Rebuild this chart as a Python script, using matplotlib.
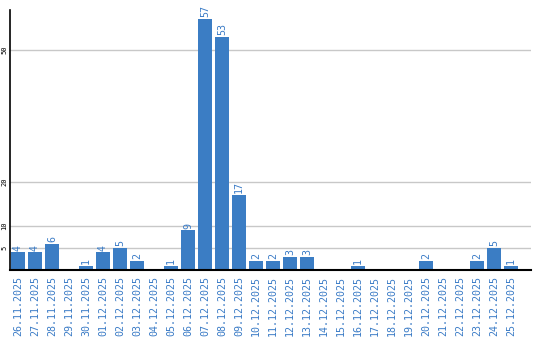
import matplotlib
matplotlib.use("Agg")
import matplotlib.pyplot as plt

dates = ["26.11.2025", "27.11.2025", "28.11.2025", "29.11.2025", "30.11.2025",
         "01.12.2025", "02.12.2025", "03.12.2025", "04.12.2025", "05.12.2025",
         "06.12.2025", "07.12.2025", "08.12.2025", "09.12.2025", "10.12.2025",
         "11.12.2025", "12.12.2025", "13.12.2025", "14.12.2025", "15.12.2025",
         "16.12.2025", "17.12.2025", "18.12.2025", "19.12.2025", "20.12.2025",
         "21.12.2025", "22.12.2025", "23.12.2025", "24.12.2025", "25.12.2025"]
counts = [4, 4, 6, 0, 1, 4, 5, 2, 0, 1, 9, 57, 53, 17, 2, 2, 3, 3, 0, 0,
          1, 0, 0, 0, 2, 0, 0, 2, 5, 1]
y_ticks = [5, 10, 20, 50]

BLUE = "#3b7dc4"
TXT = "#3a7bc6"

fig = plt.figure(figsize=(5.4, 3.4), dpi=100)
ax = fig.add_axes([10 / 540, 1 - 270 / 340, 521 / 540, 260 / 340])

x = list(range(len(dates)))
ax.bar(x, counts, width=14 / 17, color=BLUE, zorder=2)
for xi, v in zip(x, counts):
    if v > 0:
        ax.text(xi, v + 0.4, str(v), rotation=90, ha="center", va="bottom",
                color=TXT, fontsize=7.2, family="DejaVu Sans Mono")

ax.set_xlim(-0.47, 30.18)
ax.set_ylim(0, 260 / 4.4)
ax.set_yticks(y_ticks)
ax.set_yticklabels([str(t) for t in y_ticks], rotation=90, va="center",
                   fontsize=5, family="DejaVu Sans Mono")
ax.set_xticks(x)
ax.set_xticklabels(dates, rotation=90, color=TXT, fontsize=7.2,
                   family="DejaVu Sans Mono")
ax.tick_params(axis="both", length=0)
ax.tick_params(axis="x", pad=4)
ax.tick_params(axis="y", pad=2)
ax.grid(axis="y", color="#c8c8c8", linewidth=1, zorder=0)
for s in ["top", "right"]:
    ax.spines[s].set_visible(False)
ax.spines["left"].set_color("black")
ax.spines["bottom"].set_color("black")
ax.spines["left"].set_linewidth(1.2)
ax.spines["bottom"].set_linewidth(1.5)

fig.savefig("out.png", dpi=100)
